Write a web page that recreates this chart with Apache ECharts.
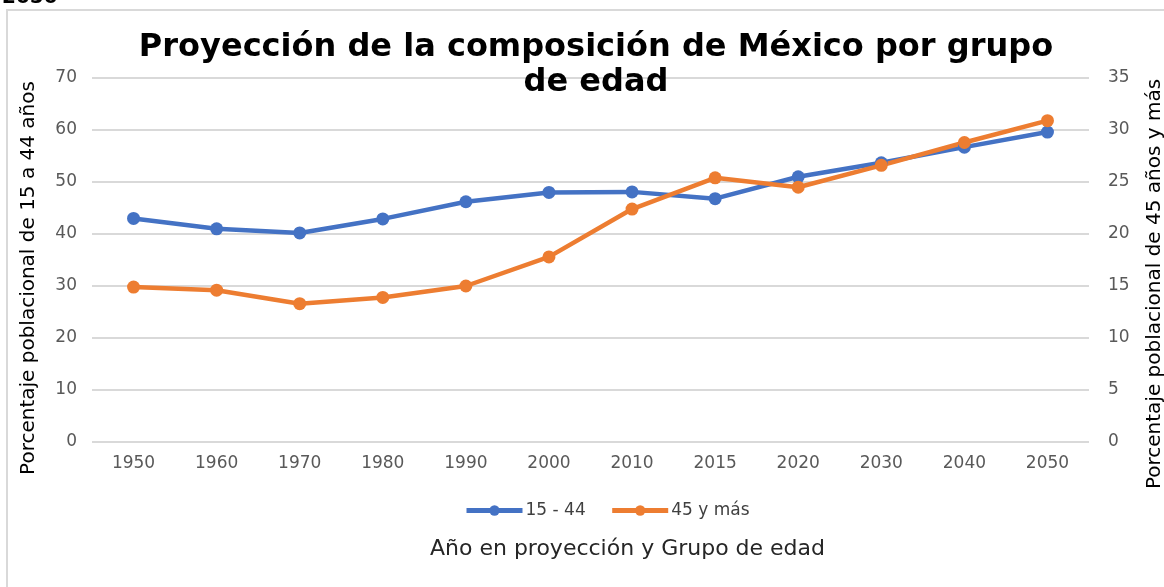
<!DOCTYPE html>
<html>
<head>
<meta charset="utf-8">
<script src="https://cdn.jsdelivr.net/npm/echarts@6/dist/echarts.min.js"></script>
<style>
  html, body { margin: 0; padding: 0; background: #fff; }
  #main { width: 1164px; height: 587px; }
</style>
</head>
<body>
<div id="main"></div>
<script>
  // años en proyeccion
  var years = ['1950', '1960', '1970', '1980', '1990', '2000', '2010', '2015', '2020', '2030', '2040', '2050'];
  // porcentaje 15 - 44 (eje izquierdo)
  var grupo15a44 = [43.0, 41.0, 40.2, 42.9, 46.2, 48.0, 48.1, 46.8, 51.0, 53.7, 56.7, 59.6];
  // porcentaje 45 y mas (eje derecho)
  var grupo45ymas = [14.9, 14.6, 13.3, 13.9, 15.0, 17.8, 22.4, 25.4, 24.5, 26.6, 28.8, 30.9];

  var font = 'DejaVu Sans, Liberation Sans, Arial, sans-serif';
  var chartDom = document.getElementById('main');
  var myChart = echarts.init(chartDom);
  var option;

  option = {
    animation: false,
    backgroundColor: '#fff',
    title: {
      text: 'Proyección de la composición de México por grupo\nde edad',
      left: 591,
      textAlign: 'center',
      top: 25,
      textStyle: {
        fontFamily: font,
        fontSize: 32,
        fontWeight: 'bold',
        color: '#000',
        lineHeight: 35
      }
    },
    graphic: [
      {
        type: 'rect',
        shape: { x: 7, y: 10, width: 1170, height: 590 },
        style: { fill: 'none', stroke: '#d9d9d9', lineWidth: 2 },
        silent: true
      },
      {
        type: 'text',
        left: 2,
        top: -12,
        style: { text: '2050', font: 'bold 20px ' + font, fill: '#000' }
      }
    ],
    legend: {
      data: ['15 - 44', '45 y más'],
      top: 497,
      left: 459,
      itemWidth: 56,
      itemHeight: 13,
      itemGap: 24,
      lineStyle: { width: 5 },
      textStyle: { fontFamily: font, fontSize: 17, color: '#404040', padding: [0, 0, 0, -2] }
    },
    grid: {
      left: 92,
      right: 75,
      top: 78,
      bottom: 145,
      outerBoundsMode: 'none'
    },
    xAxis: [{
      type: 'category',
      data: years,
      name: 'Año en proyección y Grupo de edad',
      nameLocation: 'middle',
      nameGap: 96,
      nameTextStyle: { fontFamily: font, fontSize: 22, color: '#262626', padding: [0, 0, 0, 74] },
      axisLine: { show: false },
      axisTick: { show: false },
      axisLabel: { fontFamily: font, fontSize: 17, color: '#595959', margin: 13 }
    }],
    yAxis: [
      {
        type: 'value',
        min: 0, max: 70, interval: 10,
        name: 'Porcentaje poblacional de 15 a 44 años',
        nameLocation: 'middle',
        nameGap: 53,
        nameTextStyle: { fontFamily: font, fontSize: 20, color: '#000', padding: [0, 36, 0, 0] },
        axisLabel: { fontFamily: font, fontSize: 17, color: '#595959', margin: 15 },
        splitLine: { lineStyle: { color: '#d9d9d9', width: 2 } }
      },
      {
        type: 'value',
        min: 0, max: 35, interval: 5,
        name: 'Porcentaje poblacional de 45 años y más',
        nameLocation: 'middle',
        nameGap: 56,
        nameTextStyle: { fontFamily: font, fontSize: 20, color: '#000', padding: [0, 48, 0, 0] },
        axisLabel: { fontFamily: font, fontSize: 17, color: '#595959', margin: 19 },
        splitLine: { show: false }
      }
    ],
    series: [
      {
        name: '15 - 44',
        type: 'line',
        yAxisIndex: 0,
        data: grupo15a44,
        symbol: 'circle',
        symbolSize: 13,
        lineStyle: { width: 4.5, color: '#4472C4' },
        itemStyle: { color: '#4472C4' }
      },
      {
        name: '45 y más',
        type: 'line',
        yAxisIndex: 1,
        data: grupo45ymas,
        symbol: 'circle',
        symbolSize: 13,
        lineStyle: { width: 4.5, color: '#ED7D31' },
        itemStyle: { color: '#ED7D31' }
      }
    ]
  };

  option && myChart.setOption(option);
</script>
</body>
</html>
